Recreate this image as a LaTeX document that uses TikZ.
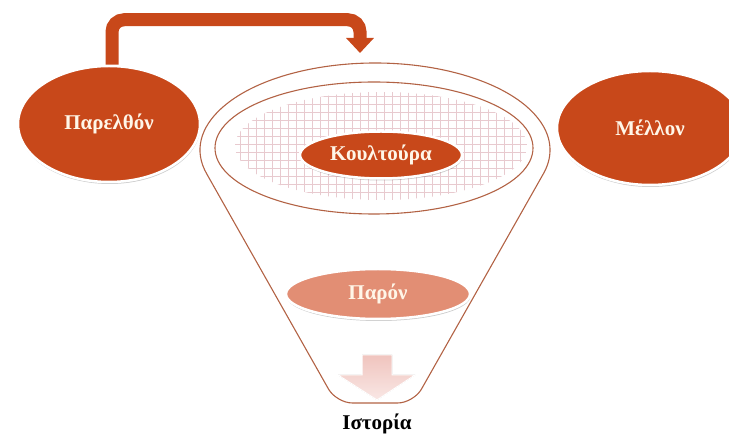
\documentclass[tikz,border=0pt]{standalone}
\usepackage{fontspec}
\setmainfont{Liberation Serif}
\usetikzlibrary{shapes.geometric,arrows.meta,shadows}

\definecolor{rust}{RGB}{200,72,26}
\definecolor{salmon}{RGB}{226,142,116}
\definecolor{cream}{RGB}{255,246,232}
\definecolor{funnelbrown}{RGB}{178,98,68}
\definecolor{gridpink}{RGB}{232,202,207}
\definecolor{arrowpink}{RGB}{240,196,190}

\tikzset{
  blob/.style={ellipse, fill=rust, draw=white, line width=2.5pt, inner sep=0pt,
    text=cream, font=\fontsize{21}{24}\selectfont\bfseries,
    drop shadow={shadow xshift=0.5pt, shadow yshift=-2pt, opacity=.2, fill=black}},
  rimline/.style={draw=funnelbrown, line width=1.1pt},
}

\begin{document}
\begin{tikzpicture}[x=1pt,y=-1pt]
\useasboundingbox (0,0) rectangle (729,435);

% funnel
\draw[rimline] (206.8,174) arc[start angle=164, end angle=376, x radius=175, y radius=87]
  [rounded corners=16pt] -- (413.6,403) -- (336.4,403) -- (206.8,174);
\draw[rimline] (374,148) ellipse [x radius=159, y radius=66];
\begin{scope}
\clip (381,146) ellipse [x radius=146, y radius=54];
\draw[gridpink, line width=0.6pt, step=8pt] (230,88) grid (530,204);
\end{scope}

\node(past) at (109,124) [blob, minimum width=182pt, minimum height=116pt] {Παρελθόν};
\node(future) at (650,128) [blob, minimum width=186pt, minimum height=114pt] {Μέλλον};
\node(culture) at (381,155) [blob, minimum width=162pt, minimum height=47pt] {Κουλτούρα};
\node(present) at (378,294) [blob, fill=salmon, minimum width=184pt, minimum height=50pt] {Παρόν};
\node(hist) at (377,424) [font=\fontsize{21}{24}\selectfont\bfseries] {Ιστορία};

\coordinate (drop) at (360,53);
\draw[rust, line width=13pt, rounded corners=12pt, -{Triangle[width=27pt,length=15pt]}]
  ([xshift=3pt]past.north) -- ++(0,-45) -| (drop);

%\draw (377,355) -- (377,400);
\fill[top color=arrowpink, bottom color=arrowpink!40, draw=white, line width=1pt]
  (362,355) -- (392,355) -- (392,375) -- (415,375) -- (377,400) -- (338,375) -- (362,375) -- cycle;

\end{tikzpicture}
\end{document}
